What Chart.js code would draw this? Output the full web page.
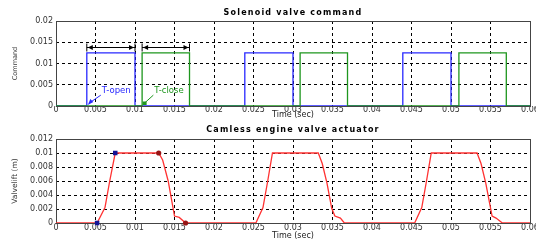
<!DOCTYPE html>
<html>
<head>
<meta charset="utf-8">
<script src="https://cdn.jsdelivr.net/npm/chart.js@4.4.1/dist/chart.umd.min.js"></script>
<style>
    html, body { margin: 0; padding: 0; background: #fff; }
    #top, #bottom { position: absolute; left: 0; width: 536px; }
    #top { top: 0; height: 120px; }
    #bottom { top: 120px; height: 121px; }
</style>
</head>
<body>
<div id="top"><canvas id="cmd"></canvas></div>
<div id="bottom"><canvas id="lift"></canvas></div>
<script>
// tick labels
var timeTicks = [0, 0.005, 0.01, 0.015, 0.02, 0.025, 0.03, 0.035, 0.04, 0.045, 0.05, 0.055, 0.06];
var cmdTicks = [0, 0.005, 0.01, 0.015, 0.02];
var liftTicks = [0, 0.002, 0.004, 0.006, 0.008, 0.01, 0.012];

// solenoid command (open = blue, close = green)
var openT  = [0, 0.0039, 0.0039, 0.01, 0.01, 0.0239, 0.0239, 0.03, 0.03, 0.0439, 0.0439, 0.05, 0.05, 0.06];
var openV  = [0, 0, 0.0125, 0.0125, 0, 0, 0.0125, 0.0125, 0, 0, 0.0125, 0.0125, 0, 0];
var closeT = [0, 0.0109, 0.0109, 0.0169, 0.0169, 0.0309, 0.0309, 0.0369, 0.0369, 0.051, 0.051, 0.057, 0.057, 0.06];
var closeV = [0, 0, 0.0125, 0.0125, 0, 0, 0.0125, 0.0125, 0, 0, 0.0125, 0.0125, 0, 0];

// T-open / T-close spans
var spanLabels = ["T-open", "T-close"];
var spanStart = [0.0039, 0.0109];
var spanEnd = [0.01, 0.0169];
var spanLevel = 0.014;
var labelT = [0.0058, 0.01245];
var labelV = 0.0035;

// valve lift
var liftT = [0, 0.0052, 0.0062, 0.0068, 0.0075, 0.013, 0.0135, 0.0142, 0.015, 0.0156, 0.0164,
             0.0253, 0.0262, 0.0268, 0.0274, 0.0332, 0.0337, 0.0343, 0.0349, 0.0353, 0.036, 0.0365,
             0.0454, 0.0463, 0.0469, 0.0475, 0.0533, 0.0538, 0.0544, 0.0552, 0.0557, 0.0565, 0.06];
var liftV = [0, 0, 0.0022, 0.006, 0.01, 0.01, 0.009, 0.006, 0.001, 0.0008, 0,
             0, 0.0022, 0.006, 0.01, 0.01, 0.0085, 0.0057, 0.0021, 0.001, 0.0007, 0,
             0, 0.0022, 0.006, 0.01, 0.01, 0.0085, 0.0057, 0.001, 0.0007, 0, 0];
var openMarkT = [0.0052, 0.0075];
var openMarkV = [0, 0.01];
var closeMarkT = [0.013, 0.0164];
var closeMarkV = [0.01, 0];

function pts(t, v) {
    return t.map(function (x, i) { return { x: x, y: v[i] }; });
}

function fmt(v) {
    return String(Number(v.toFixed(4)));
}

// full box round plot area + spaced bold title
var framePlugin = {
    id: 'frame',
    beforeDatasetsDraw: function (chart) {
        var a = chart.chartArea, ctx = chart.ctx;
        ctx.save();
        ctx.strokeStyle = '#444';
        ctx.lineWidth = 1;
        ctx.strokeRect(Math.round(a.left) + 0.5, Math.round(a.top) + 0.5,
            Math.round(a.right - a.left), Math.round(a.bottom - a.top));
        ctx.restore();
    },
    afterDraw: function (chart, args, opts) {
        var a = chart.chartArea, ctx = chart.ctx;
        ctx.save();
        ctx.font = 'bold 8px "DejaVu Sans"';
        ctx.letterSpacing = '1.2px';
        ctx.fillStyle = '#000';
        ctx.textAlign = 'center';
        ctx.textBaseline = 'middle';
        ctx.fillText(opts.text, (a.left + a.right) / 2, opts.y);
        ctx.restore();
    }
};

var spanPlugin = {
    id: 'spans',
    afterDatasetsDraw: function (chart) {
        var xs = chart.scales.x, ys = chart.scales.y, ctx = chart.ctx;
        var colors = ['rgb(40,40,255)', 'rgb(30,150,30)'];
        ctx.save();
        for (var i = 0; i < spanStart.length; i++) {
            var x0 = xs.getPixelForValue(spanStart[i]);
            var x1 = xs.getPixelForValue(spanEnd[i]);
            var yy = Math.round(ys.getPixelForValue(spanLevel)) + 0.5;
            ctx.strokeStyle = '#000';
            ctx.fillStyle = '#000';
            ctx.lineWidth = 1;
            ctx.beginPath();
            ctx.moveTo(x0, yy); ctx.lineTo(x1, yy);
            ctx.moveTo(x0, yy - 4); ctx.lineTo(x0, yy + 4);
            ctx.moveTo(x1, yy - 4); ctx.lineTo(x1, yy + 4);
            ctx.stroke();
            ctx.beginPath();
            ctx.moveTo(x0 + 1, yy); ctx.lineTo(x0 + 6, yy - 2.5); ctx.lineTo(x0 + 6, yy + 2.5);
            ctx.closePath();
            ctx.moveTo(x1 - 1, yy); ctx.lineTo(x1 - 6, yy - 2.5); ctx.lineTo(x1 - 6, yy + 2.5);
            ctx.closePath();
            ctx.fill();

            // label and pointer
            var lx = xs.getPixelForValue(labelT[i]);
            var ly = ys.getPixelForValue(labelV);
            ctx.fillStyle = colors[i];
            ctx.strokeStyle = colors[i];
            ctx.font = '8.5px "DejaVu Sans"';
            ctx.textAlign = 'left';
            ctx.textBaseline = 'middle';
            ctx.fillText(spanLabels[i], lx, ly);
            var px = x0 + 2.5, py = ys.getPixelForValue(0) - 3;
            ctx.beginPath();
            ctx.moveTo(lx - 1, ly + 4);
            ctx.lineTo(px, py);
            ctx.stroke();
            ctx.beginPath();
            if (i === 0) {
                ctx.moveTo(px - 1.5, py + 2);
                ctx.lineTo(px + 4, py - 1);
                ctx.lineTo(px + 1, py - 4);
                ctx.closePath();
                ctx.fill();
            } else {
                ctx.fillRect(px - 2, py - 1.5, 4, 3.5);
            }
        }
        ctx.restore();
    }
};

function timeAxis(tickPad, height) {
    return {
        type: 'linear',
        min: 0,
        max: 0.06,
        afterBuildTicks: function (s) { s.ticks = timeTicks.map(function (v) { return { value: v }; }); },
        afterFit: function (s) { s.height = height; s.paddingLeft = 0; s.paddingRight = 0; },
        grid: { color: '#000', drawTicks: false, lineWidth: 1 },
        border: { display: false, dash: [3, 3] },
        ticks: {
            color: '#333', padding: tickPad, maxRotation: 0, autoSkip: false,
            font: { family: 'DejaVu Sans', size: 8, lineHeight: 1 },
            callback: fmt
        },
        title: {
            display: true, text: 'Time (sec)', color: '#222',
            font: { family: 'DejaVu Sans', size: 8, lineHeight: 1.2 },
            padding: 0
        }
    };
}

function valueAxis(max, ticks, label, titleSize) {
    return {
        type: 'linear',
        min: 0,
        max: max,
        afterBuildTicks: function (s) { s.ticks = ticks.map(function (v) { return { value: v }; }); },
        afterFit: function (s) { s.width = 56; },
        grid: { color: '#000', drawTicks: false, lineWidth: 1 },
        border: { display: false, dash: [3, 3] },
        ticks: {
            color: '#333', padding: 3,
            font: { family: 'DejaVu Sans', size: 8, lineHeight: 1 },
            callback: fmt
        },
        title: {
            display: true, text: label, color: '#333',
            font: { family: 'DejaVu Sans', size: titleSize, lineHeight: 1.2 },
            padding: { top: 11, bottom: 0 }
        }
    };
}

new Chart(document.getElementById('cmd'), {
    type: 'scatter',
    data: {
        datasets: [{
            data: pts(closeT, closeV),
            showLine: true,
            borderColor: 'rgb(30,150,30)',
            borderWidth: 1.3,
            pointRadius: 0
        }, {
            data: pts(openT, openV),
            showLine: true,
            borderColor: 'rgb(40,40,255)',
            borderWidth: 1.3,
            pointRadius: 0
        }]
    },
    options: {
        responsive: true,
        maintainAspectRatio: false,
        animation: false,
        layout: { padding: { top: 21, right: 6, left: 0, bottom: 0 } },
        plugins: {
            legend: { display: false },
            tooltip: { enabled: false },
            frame: { text: 'Solenoid valve command', y: 13 }
        },
        scales: {
            x: timeAxis(0, 14),
            y: valueAxis(0.02, cmdTicks, 'Command', 6.5)
        }
    },
    plugins: [framePlugin, spanPlugin]
});

new Chart(document.getElementById('lift'), {
    type: 'scatter',
    data: {
        datasets: [{
            data: pts(openMarkT, openMarkV),
            pointStyle: 'rect',
            pointRadius: 3.2,
            backgroundColor: 'rgb(20,20,150)',
            borderColor: 'rgb(20,20,150)',
            borderWidth: 0,
            clip: false
        }, {
            data: pts(closeMarkT, closeMarkV),
            pointStyle: 'circle',
            pointRadius: 2.6,
            backgroundColor: 'rgb(150,20,20)',
            borderColor: 'rgb(150,20,20)',
            borderWidth: 0,
            clip: false
        }, {
            data: pts(liftT, liftV),
            showLine: true,
            borderColor: 'rgb(255,50,50)',
            borderWidth: 1.3,
            pointRadius: 0
        }]
    },
    options: {
        responsive: true,
        maintainAspectRatio: false,
        animation: false,
        layout: { padding: { top: 19, right: 6, left: 0, bottom: 0 } },
        plugins: {
            legend: { display: false },
            tooltip: { enabled: false },
            frame: { text: 'Camless engine valve actuator', y: 10 }
        },
        scales: {
            x: timeAxis(0.5, 18),
            y: valueAxis(0.012, liftTicks, 'Valvelift (m)', 7.5)
        }
    },
    plugins: [framePlugin]
});
</script>
</body>
</html>
